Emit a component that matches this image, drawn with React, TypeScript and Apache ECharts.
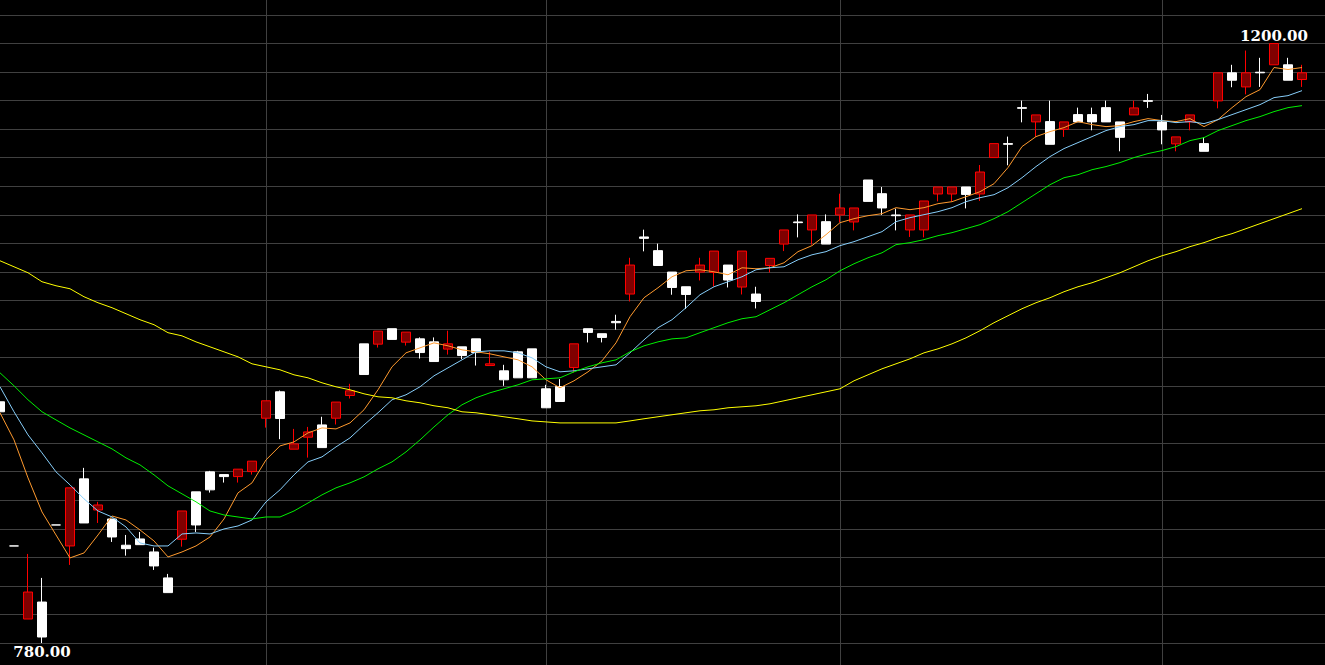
import React, { useEffect, useRef } from "react";
import * as echarts from "echarts";

const openPrices = [
  949.0, 848.0, 796.8, 808.7, 862.7, 848.0, 895.0, 873.2, 866.9, 848.5,
  852.9, 843.8, 825.6, 852.7, 885.9, 899.9, 898.0, 896.6, 900.1, 937.5,
  956.0, 915.8, 924.2, 932.8, 937.5, 953.4, 989.6, 989.4, 1000.2, 990.8,
  993.1, 991.0, 985.9, 987.5, 993.1, 974.4, 970.7, 984.0, 986.1, 958.1,
  959.7, 973.0, 1000.2, 996.7, 1005.3, 1024.5, 1064.5, 1054.9, 1039.9, 1029.6,
  1039.9, 1039.6, 1044.8, 1029.4, 1024.5, 1044.5, 1059.5, 1075.0, 1069.4, 1075.2,
  1079.9, 1075.0, 1104.4, 1094.8, 1079.9, 1069.4, 1069.4, 1094.6, 1094.6, 1099.5,
  1094.6, 1120.1, 1129.9, 1155.1, 1145.1, 1145.3, 1139.9, 1150.2, 1150.2, 1155.1,
  1145.1, 1150.0, 1160.0, 1145.1, 1129.7, 1145.1, 1129.9, 1159.8, 1179.5, 1169.6,
  1179.9, 1185.1, 1185.1, 1174.8,
];

const closePrices = [
  942.0, 848.0, 815.7, 784.2, 862.7, 888.7, 864.1, 876.7, 854.3, 846.1,
  848.9, 834.0, 815.3, 872.5, 862.7, 887.3, 896.6, 901.8, 907.4, 949.7,
  937.3, 919.5, 927.9, 916.9, 948.8, 956.7, 968.1, 998.5, 992.7, 997.8,
  983.5, 977.2, 989.6, 981.4, 983.5, 975.6, 964.4, 965.8, 965.8, 944.8,
  949.2, 989.6, 997.6, 994.1, 1004.4, 1044.8, 1063.5, 1044.5, 1029.1, 1024.2,
  1044.8, 1054.6, 1034.3, 1054.6, 1019.3, 1049.5, 1069.4, 1074.5, 1079.9, 1059.5,
  1084.8, 1084.8, 1089.4, 1084.8, 1079.4, 1079.9, 1089.7, 1099.5, 1099.5, 1094.3,
  1110.0, 1129.9, 1129.4, 1154.6, 1150.0, 1129.4, 1145.1, 1145.1, 1145.1, 1145.1,
  1134.3, 1154.9, 1159.5, 1139.5, 1134.6, 1150.0, 1124.5, 1179.5, 1174.3, 1179.5,
  1179.5, 1200.0, 1174.3, 1179.5,
];

const lowPrices = [
  940.6, 848.0, 796.8, 780.0, 862.7, 834.7, 864.1, 864.1, 850.8, 841.2,
  848.9, 831.2, 815.3, 847.5, 857.8, 885.4, 892.4, 892.4, 898.0, 930.9,
  922.8, 915.8, 909.9, 916.9, 933.1, 951.3, 968.1, 987.0, 992.7, 988.4,
  979.3, 977.2, 982.1, 978.9, 974.4, 974.4, 960.2, 965.8, 965.8, 944.8,
  949.2, 969.5, 990.6, 990.6, 999.5, 1019.3, 1054.4, 1044.5, 1024.0, 1014.0,
  1034.0, 1029.8, 1029.1, 1024.2, 1014.4, 1039.6, 1054.6, 1064.2, 1059.1, 1059.5,
  1074.7, 1069.1, 1089.4, 1079.9, 1069.1, 1064.5, 1064.2, 1089.4, 1089.4, 1084.5,
  1089.7, 1120.1, 1114.7, 1144.8, 1134.6, 1129.4, 1134.6, 1145.1, 1139.2, 1145.1,
  1124.5, 1150.0, 1154.9, 1129.4, 1124.5, 1139.2, 1124.5, 1154.6, 1169.4, 1164.4,
  1169.6, 1185.1, 1174.3, 1169.6,
];

const highPrices = [
  951.8, 848.0, 842.4, 825.6, 862.7, 888.7, 902.7, 878.9, 866.9, 855.7,
  857.8, 846.8, 828.4, 872.5, 885.9, 900.6, 898.0, 901.8, 907.4, 949.7,
  956.9, 930.0, 931.4, 938.5, 948.8, 961.6, 989.6, 998.5, 1000.2, 997.8,
  994.1, 994.1, 998.8, 987.5, 993.1, 984.0, 974.9, 984.7, 986.1, 960.9,
  964.9, 989.6, 1000.2, 996.7, 1010.0, 1049.9, 1069.6, 1059.8, 1039.9, 1029.6,
  1049.9, 1054.6, 1044.8, 1054.6, 1029.6, 1049.5, 1069.4, 1080.3, 1079.9, 1080.3,
  1094.8, 1084.8, 1104.4, 1099.5, 1084.3, 1079.9, 1089.7, 1099.5, 1099.5, 1099.5,
  1114.9, 1129.9, 1134.8, 1160.0, 1150.0, 1160.0, 1145.1, 1155.1, 1155.1, 1160.0,
  1145.1, 1160.0, 1164.7, 1150.0, 1134.6, 1150.0, 1134.3, 1179.5, 1185.1, 1195.1,
  1190.0, 1200.0, 1190.0, 1185.1,
];

const ma5 = [
  941.3, 922.3, 895.7, 871.8, 855.7, 839.6, 843.1, 855.7, 869.0, 866.2,
  859.2, 851.5, 840.3, 843.8, 848.0, 854.3, 866.9, 885.2, 892.2, 908.3,
  918.1, 920.9, 927.2, 930.7, 930.0, 934.2, 943.4, 957.4, 973.5, 983.3,
  986.8, 990.3, 988.2, 985.4, 984.0, 982.6, 980.5, 978.4, 973.5, 964.4,
  958.8, 963.7, 970.0, 977.7, 990.3, 1008.6, 1021.9, 1028.9, 1036.6, 1040.8,
  1041.5, 1040.1, 1038.0, 1042.9, 1042.2, 1042.9, 1046.4, 1054.2, 1058.4, 1066.1,
  1074.5, 1077.3, 1079.4, 1080.8, 1085.0, 1083.6, 1085.0, 1087.8, 1089.2, 1092.7,
  1096.2, 1101.8, 1113.1, 1127.8, 1134.8, 1138.3, 1141.1, 1145.3, 1143.2, 1141.8,
  1142.5, 1145.3, 1147.4, 1146.0, 1145.3, 1147.4, 1141.8, 1146.7, 1155.1, 1162.8,
  1167.7, 1183.2, 1181.8, 1183.2,
];

const ma10 = [
  959.5, 942.0, 925.8, 913.2, 899.9, 890.8, 881.0, 872.5, 868.3, 861.3,
  850.1, 848.0, 848.0, 856.4, 857.1, 856.4, 859.9, 862.0, 866.2, 878.9,
  887.3, 897.8, 906.9, 910.4, 917.4, 923.7, 932.8, 941.3, 950.4, 953.9,
  959.5, 967.2, 972.8, 978.4, 984.0, 984.7, 984.7, 983.3, 979.8, 973.5,
  970.0, 970.7, 972.1, 973.5, 974.9, 983.3, 992.4, 1000.9, 1006.5, 1014.9,
  1024.0, 1029.6, 1033.1, 1036.6, 1041.5, 1042.9, 1043.6, 1048.5, 1052.0, 1054.2,
  1058.4, 1061.2, 1064.7, 1068.2, 1075.2, 1078.0, 1080.1, 1082.2, 1085.0, 1089.2,
  1092.0, 1094.1, 1099.0, 1106.0, 1113.8, 1120.8, 1126.4, 1130.6, 1134.8, 1139.0,
  1141.8, 1143.2, 1146.0, 1146.0, 1144.6, 1145.3, 1143.9, 1146.7, 1150.2, 1153.7,
  1157.2, 1162.1, 1163.5, 1167.0,
];

const ma20 = [
  969.3, 960.2, 950.4, 942.0, 936.3, 930.7, 925.8, 920.9, 916.0, 909.7,
  904.8, 897.8, 890.1, 884.5, 878.9, 872.5, 869.7, 868.3, 866.9, 868.3,
  868.3, 872.5, 878.1, 883.8, 888.7, 892.2, 896.4, 902.0, 906.9, 913.9,
  922.3, 931.4, 939.9, 946.9, 951.8, 955.3, 958.1, 960.9, 964.4, 965.1,
  965.8, 970.0, 973.5, 976.3, 978.4, 984.0, 988.2, 991.0, 993.1, 993.8,
  997.4, 1000.9, 1004.4, 1007.2, 1008.6, 1013.5, 1018.4, 1024.0, 1029.6, 1034.5,
  1040.8, 1045.7, 1049.9, 1053.4, 1059.1, 1060.5, 1062.6, 1065.4, 1067.5, 1070.3,
  1073.1, 1077.3, 1082.2, 1088.5, 1094.8, 1101.1, 1106.0, 1108.1, 1111.6, 1113.8,
  1116.6, 1120.1, 1122.9, 1125.0, 1127.8, 1132.0, 1134.1, 1139.0, 1142.5, 1146.0,
  1148.8, 1152.3, 1155.1, 1156.5,
];

const ma60 = [
  1047.8, 1043.6, 1039.4, 1033.1, 1030.3, 1028.2, 1022.6, 1018.4, 1014.9, 1010.7,
  1006.5, 1003.0, 997.4, 995.2, 991.0, 987.5, 984.0, 980.5, 975.6, 973.5,
  971.4, 967.9, 965.8, 962.3, 959.5, 957.4, 954.6, 952.5, 951.8, 949.7,
  948.3, 946.2, 944.8, 942.0, 941.3, 939.9, 938.5, 937.1, 935.6, 934.9,
  934.2, 934.2, 934.2, 934.2, 934.2, 935.6, 937.1, 938.5, 939.9, 941.3,
  942.7, 943.4, 944.8, 945.5, 946.2, 947.6, 949.7, 951.8, 953.9, 956.0,
  958.1, 963.7, 967.9, 972.1, 975.6, 979.1, 983.3, 986.1, 989.6, 993.8,
  998.8, 1004.4, 1009.3, 1014.2, 1018.4, 1021.9, 1026.1, 1029.6, 1032.4, 1035.9,
  1039.4, 1043.6, 1047.8, 1051.3, 1054.2, 1057.7, 1060.5, 1064.0, 1066.8, 1070.3,
  1073.8, 1077.3, 1080.8, 1084.3,
];

// indices of the first trading day of each month (vertical separators)
const monthStarts = [19, 39, 60, 83];

const categories = openPrices.map((_, i) => String(i + 1));

const candleData = openPrices.map((o, i) => [o, closePrices[i], lowPrices[i], highPrices[i]]);

export default function App() {
  const ref = useRef<HTMLDivElement>(null);

  useEffect(() => {
    if (!ref.current) return;
    const chart = echarts.init(ref.current, undefined, { renderer: "svg" });
    const gridColor = "#404040";
    const lineSeries = (name: string, data: number[], color: string) => ({
      name,
      type: "line",
      xAxisIndex: 0,
      yAxisIndex: 0,
      data,
      showSymbol: false,
      symbol: "none",
      smooth: false,
      lineStyle: { width: 1, color },
      itemStyle: { color },
      z: 3,
    });
    const labelStyle = {
      show: true,
      color: "#ffffff",
      fontSize: 15,
      fontWeight: "bold",
      fontFamily: "DejaVu Serif",
      formatter: (p: any) => Number(p.value).toFixed(2),
    };
    chart.setOption({
      animation: false,
      backgroundColor: "#000000",
      grid: [
        { left: 0, right: 23, top: 15, bottom: 22 },
        { left: 0, right: 0, top: 15, bottom: 22 },
        { left: 0, right: 23, top: 0, bottom: 0 },
      ],
      xAxis: [
        { type: "category", gridIndex: 0, data: categories, boundaryGap: false, show: false },
        { type: "value", gridIndex: 1, min: 0, max: 1, show: false },
        {
          type: "category",
          gridIndex: 2,
          data: categories,
          boundaryGap: false,
          axisLine: { show: false },
          axisTick: { show: false },
          axisLabel: { show: false },
          splitLine: {
            show: true,
            interval: (i: number) => monthStarts.includes(i),
            lineStyle: { color: gridColor, width: 1 },
          },
        },
      ],
      yAxis: [
        { type: "value", gridIndex: 0, min: 780, max: 1220, show: false, splitLine: { show: false } },
        {
          type: "value",
          gridIndex: 1,
          min: 780,
          max: 1220,
          interval: 20,
          axisLine: { show: false },
          axisTick: { show: false },
          axisLabel: { show: false },
          splitLine: { show: true, lineStyle: { color: gridColor, width: 1 } },
        },
        { type: "value", gridIndex: 2, min: 0, max: 1, show: false },
      ],
      series: [
        {
          name: "K",
          type: "candlestick",
          xAxisIndex: 0,
          yAxisIndex: 0,
          data: candleData,
          barWidth: 10,
          itemStyle: {
            color: "#800000",
            color0: "#ffffff",
            borderColor: "#ff0000",
            borderColor0: "#ffffff",
            borderColorDoji: "#ffffff",
            borderWidth: 1,
          },
          markPoint: {
            symbol: "circle",
            symbolSize: 0,
            label: labelStyle,
            data: [
              { type: "max", valueDim: "highest", label: { ...labelStyle, position: "top", distance: 0 } },
              { type: "min", valueDim: "lowest", label: { ...labelStyle, position: "bottom", distance: 1 } },
            ],
          },
          z: 2,
        },
        lineSeries("MA5", ma5, "#ff9a2e"),
        lineSeries("MA10", ma10, "#87cefa"),
        lineSeries("MA20", ma20, "#00f000"),
        lineSeries("MA60", ma60, "#ffff00"),
      ],
    });
    return () => chart.dispose();
  }, []);

  return (
    <div
      ref={ref}
      style={{ position: "fixed", left: 0, top: 0, width: 1325, height: 665, background: "#000" }}
    />
  );
}
